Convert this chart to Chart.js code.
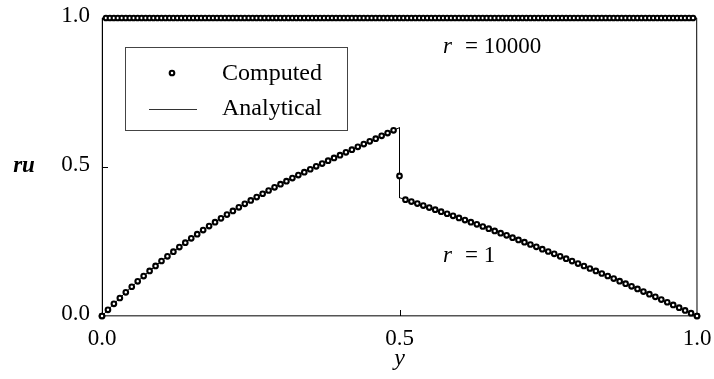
<!DOCTYPE html>
<html>
<head>
<meta charset="utf-8">
<script src="https://cdn.jsdelivr.net/npm/chart.js@4/dist/chart.umd.min.js"></script>
<style>
  html, body { margin: 0; padding: 0; background: #fff; }
  #wrap { width: 714px; height: 379px; }
</style>
</head>
<body>
<div id="wrap"><canvas id="chart"></canvas></div>
<script>
// r = 1 : computed ru on a 101-node grid, y = 0 .. 1
const ruR1 = [
    0, 0.0206, 0.0408, 0.0604, 0.0795, 0.0981, 0.1163, 0.1340, 0.1512, 0.1681,
    0.1845, 0.2004, 0.2160, 0.2312, 0.2461, 0.2605, 0.2746, 0.2884, 0.3019, 0.3150,
    0.3279, 0.3404, 0.3527, 0.3647, 0.3764, 0.3879, 0.3992, 0.4103, 0.4211, 0.4318,
    0.4423, 0.4526, 0.4628, 0.4728, 0.4826, 0.4924, 0.5021, 0.5116, 0.5211, 0.5305,
    0.5398, 0.5491, 0.5583, 0.5676, 0.5768, 0.5860, 0.5952, 0.6045, 0.6138, 0.6231,
    0.470,
    0.3905, 0.3839, 0.3772, 0.3705, 0.3637, 0.3569, 0.3500, 0.3431, 0.3361, 0.3291,
    0.3220, 0.3148, 0.3076, 0.3003, 0.2929, 0.2856, 0.2781, 0.2706, 0.2630, 0.2554,
    0.2477, 0.2400, 0.2322, 0.2243, 0.2164, 0.2085, 0.2004, 0.1923, 0.1842, 0.1760,
    0.1678, 0.1594, 0.1511, 0.1426, 0.1342, 0.1256, 0.1170, 0.1084, 0.0997, 0.0909,
    0.0821, 0.0732, 0.0642, 0.0552, 0.0462, 0.0371, 0.0279, 0.0187, 0.0094, 0
];
// analytical jump at y = 0.5 (left / right limits)
const jumpY = 0.5;
const jumpLeft = 0.632;
const jumpRight = 0.397;

// r = 10000 : computed ru on a 151-node grid
const ruR10000 = [
    0, 1, 1, 1, 1, 1, 1, 1, 1, 1, 1, 1, 1, 1, 1, 1, 1, 1, 1, 1, 1, 1, 1, 1, 1,
    1, 1, 1, 1, 1, 1, 1, 1, 1, 1, 1, 1, 1, 1, 1, 1, 1, 1, 1, 1, 1, 1, 1, 1, 1,
    1, 1, 1, 1, 1, 1, 1, 1, 1, 1, 1, 1, 1, 1, 1, 1, 1, 1, 1, 1, 1, 1, 1, 1, 1,
    1, 1, 1, 1, 1, 1, 1, 1, 1, 1, 1, 1, 1, 1, 1, 1, 1, 1, 1, 1, 1, 1, 1, 1, 1,
    1, 1, 1, 1, 1, 1, 1, 1, 1, 1, 1, 1, 1, 1, 1, 1, 1, 1, 1, 1, 1, 1, 1, 1, 1,
    1, 1, 1, 1, 1, 1, 1, 1, 1, 1, 1, 1, 1, 1, 1, 1, 1, 1, 1, 1, 1, 1, 1, 1, 1,
    0
];
// analytical r = 10000: thin boundary layers at both walls
const analyticY10000 = [0, 0.0005, 0.9995, 1];
const analyticRu10000 = [0, 1, 1, 0];

const tickValues = [0, 0.5, 1];

const serif = '"Liberation Serif", "Times New Roman", serif';

const onGrid = arr => arr.map((v, i) => ({ x: i / (arr.length - 1), y: v }));

const computed1 = onGrid(ruR1);
const computed10000 = onGrid(ruR10000);

// analytical r = 1 follows the nodes, with a vertical jump at y = 0.5
const mid = (ruR1.length - 1) / 2;
const analytic1 = computed1.slice(0, mid)
    .concat([{ x: jumpY, y: jumpLeft }, { x: jumpY, y: jumpRight }])
    .concat(computed1.slice(mid + 1));
const analytic10000 = analyticY10000.map((v, i) => ({ x: v, y: analyticRu10000[i] }));

const markerRadius = 2.3;
const markerBorder = 2.1;

const pointStyle = {
    showLine: false,
    pointRadius: markerRadius,
    pointBorderWidth: markerBorder,
    pointBorderColor: '#000',
    pointBackgroundColor: '#fff',
    clip: false
};

const lineStyle = {
    showLine: true,
    pointRadius: 0,
    borderColor: '#000',
    borderWidth: 1,
    fill: false,
    clip: false
};

// drop the label-overflow padding so the plot box sits where the layout says
const noScalePadding = s => {
    s.paddingLeft = 0; s.paddingRight = 0; s.paddingTop = 0; s.paddingBottom = 0;
};

// Legend box, labels, inward ticks, axis titles
const extras = {
    id: 'extras',
    afterDatasetsDraw(chart) {
        const { ctx, chartArea: a, scales: { x, y } } = chart;
        ctx.save();

        // inward tick marks at 0.5
        ctx.strokeStyle = '#000';
        ctx.lineWidth = 1;
        ctx.beginPath();
        const tx = Math.round(x.getPixelForValue(0.5)) + 0.5;
        ctx.moveTo(tx, a.bottom);
        ctx.lineTo(tx, a.bottom - 6);
        const ty = Math.round(y.getPixelForValue(0.5)) + 0.5;
        ctx.moveTo(a.left, ty);
        ctx.lineTo(a.left + 6, ty);
        ctx.stroke();

        // legend
        const lx = a.left + 23, ly = a.top + 29;
        ctx.fillStyle = '#fff';
        ctx.fillRect(lx, ly, 222, 83);
        ctx.strokeStyle = '#444';
        ctx.strokeRect(lx + 0.5, ly + 0.5, 222, 83);

        ctx.beginPath();
        ctx.arc(lx + 47, ly + 26, markerRadius, 0, Math.PI * 2);
        ctx.fillStyle = '#fff';
        ctx.fill();
        ctx.lineWidth = markerBorder;
        ctx.strokeStyle = '#000';
        ctx.stroke();

        ctx.beginPath();
        ctx.lineWidth = 1;
        ctx.strokeStyle = '#333';
        ctx.moveTo(lx + 24, ly + 62.5);
        ctx.lineTo(lx + 72, ly + 62.5);
        ctx.stroke();

        ctx.fillStyle = '#000';
        ctx.textAlign = 'left';
        ctx.textBaseline = 'alphabetic';
        ctx.font = '24px ' + serif;
        ctx.fillText('Computed', lx + 97, ly + 33);
        ctx.fillText('Analytical', lx + 97, ly + 68);

        // curve labels
        const labelAt = (txt, xv, yv) => {
            const px = x.getPixelForValue(xv), py = y.getPixelForValue(yv);
            ctx.font = 'italic 23px ' + serif;
            ctx.fillText('r', px, py);
            ctx.font = '23px ' + serif;
            ctx.fillText(txt, px + 22, py);
        };
        labelAt('= 10000', 0.573, 0.884);
        labelAt('= 1', 0.573, 0.182);

        // axis titles
        ctx.font = 'bold italic 23px ' + serif;
        ctx.textAlign = 'center';
        ctx.fillText('ru', 24, y.getPixelForValue(0.5) + 5);
        ctx.font = 'italic 24px ' + serif;
        ctx.fillText('y', x.getPixelForValue(0.5), 365);

        ctx.restore();
    }
};

new Chart(document.getElementById('chart'), {
    type: 'scatter',
    data: {
        datasets: [
            { label: 'Computed r=1', data: computed1, ...pointStyle, order: 1 },
            { label: 'Computed r=10000', data: computed10000, ...pointStyle, order: 2 },
            { label: 'Analytical r=1', data: analytic1, ...lineStyle, order: 3 },
            { label: 'Analytical r=10000', data: analytic10000, ...lineStyle, order: 4 }
        ]
    },
    options: {
        responsive: true,
        maintainAspectRatio: false,
        animation: false,
        devicePixelRatio: 1,
        layout: { padding: { left: 0, top: 18, right: 17, bottom: 0 } },
        plugins: {
            legend: { display: false },
            tooltip: { enabled: false }
        },
        scales: {
            x: {
                type: 'linear',
                min: 0,
                max: 1,
                afterBuildTicks: s => { s.ticks = tickValues.map(v => ({ value: v })); },
                afterFit: s => { s.height = 63; noScalePadding(s); },
                grid: { display: false, drawTicks: false },
                border: { display: true, color: '#555', width: 1.5 },
                ticks: {
                    padding: 9,
                    color: '#000',
                    maxRotation: 0,
                    autoSkip: false,
                    font: { family: serif, size: 23 },
                    callback: v => v.toFixed(1)
                }
            },
            y: {
                type: 'linear',
                min: 0,
                max: 1,
                afterBuildTicks: s => { s.ticks = tickValues.map(v => ({ value: v })); },
                afterFit: s => { s.width = 102; noScalePadding(s); },
                grid: { display: false, drawTicks: false },
                border: { display: true, color: '#000', width: 1 },
                ticks: {
                    padding: 12,
                    color: '#000',
                    labelOffset: -2,
                    autoSkip: false,
                    font: { family: serif, size: 23 },
                    callback: v => v.toFixed(1)
                }
            }
        }
    },
    plugins: [extras]
});
</script>
</body>
</html>
